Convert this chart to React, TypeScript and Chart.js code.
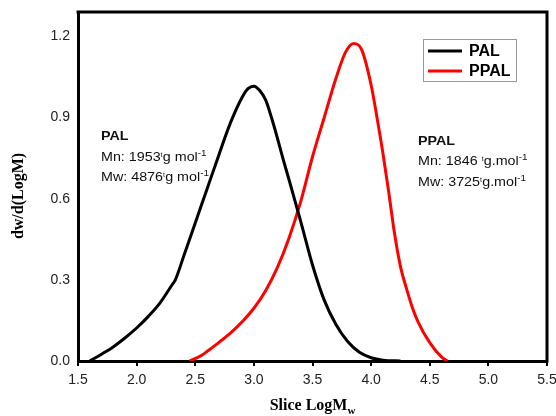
import React, { useEffect, useRef } from 'react';
import { Chart, registerables } from 'chart.js';
Chart.register(...registerables);

const palX = [1.6, 1.7, 1.8, 1.9, 2.0, 2.1, 2.2, 2.3, 2.33, 2.4, 2.5, 2.6, 2.7, 2.8, 2.9, 2.95, 3.0, 3.05, 3.1, 3.15, 3.2, 3.25, 3.3, 3.4, 3.5, 3.6, 3.7, 3.8, 3.9, 4.0, 4.1, 4.25];
const palY = [0, 0.025, 0.052, 0.085, 0.122, 0.165, 0.215, 0.28, 0.3, 0.385, 0.51, 0.635, 0.76, 0.88, 0.975, 1.007, 1.016, 1.0, 0.965, 0.9, 0.825, 0.745, 0.67, 0.515, 0.355, 0.225, 0.135, 0.072, 0.032, 0.012, 0.003, 0];
const ppalX = [2.45, 2.55, 2.6, 2.7, 2.8, 2.9, 3.0, 3.1, 3.2, 3.3, 3.4, 3.5, 3.6, 3.7, 3.78, 3.85, 3.92, 4.0, 4.05, 4.1, 4.15, 4.2, 4.25, 4.3, 4.35, 4.4, 4.5, 4.6, 4.65];
const ppalY = [0, 0.02, 0.035, 0.068, 0.103, 0.145, 0.195, 0.26, 0.345, 0.455, 0.59, 0.755, 0.9, 1.045, 1.14, 1.174, 1.15, 1.02, 0.9, 0.77, 0.625, 0.47, 0.35, 0.27, 0.2, 0.145, 0.068, 0.015, 0];

const seriesNames = ['PAL', 'PPAL'];
const seriesColors = ['#000000', '#ff0000'];
const xMin = 1.5, xMax = 5.5, xStep = 0.5;
const yMin = 0, yMax = 1.29, yStep = 0.3;
const palNotes = ['PAL', 'Mn: 1953', 'Mw: 4876'];
const ppalNotes = ['PPAL', 'Mn: 1846 ', 'Mw: 3725'];
const unitPal = 'g mol';
const unitPpal = 'g.mol';

const SANS = '"Liberation Sans", Arial, sans-serif';
const SERIF = '"Liberation Serif", "Times New Roman", serif';

type Part = { text: string; font: string; dy?: number };
function drawRich(ctx: CanvasRenderingContext2D, x: number, y: number, parts: Part[], sx = 1) {
  ctx.save();
  ctx.translate(x, y);
  ctx.scale(sx, 1);
  let cx = 0;
  for (const p of parts) {
    ctx.font = p.font;
    ctx.fillText(p.text, cx, p.dy || 0);
    cx += ctx.measureText(p.text).width;
  }
  ctx.restore();
}

export default function App() {
  const ref = useRef<HTMLCanvasElement>(null);
  useEffect(() => {
    document.body.style.margin = '0';
    const ctx = ref.current!.getContext('2d')!;
    const overlay = {
      id: 'overlay',
      afterDraw(chart: any) {
        const c: CanvasRenderingContext2D = chart.ctx;
        const a = chart.chartArea;
        c.save();
        c.strokeStyle = '#000';
        c.lineWidth = 3;
        c.beginPath();
        c.moveTo(a.left - 1.5, a.top);
        c.lineTo(a.right, a.top);
        c.lineTo(a.right, a.bottom + 1.5);
        c.stroke();

        c.lineWidth = 1;
        c.strokeStyle = '#999';
        c.strokeRect(423.5, 39.5, 93, 42);
        const ly = [51, 71];
        c.textBaseline = 'middle';
        c.textAlign = 'left';
        for (let i = 0; i < 2; i++) {
          c.strokeStyle = seriesColors[i];
          c.lineWidth = 3;
          c.beginPath();
          c.moveTo(428, ly[i]);
          c.lineTo(462, ly[i]);
          c.stroke();
          c.fillStyle = '#000';
          c.font = 'bold 16px ' + SANS;
          c.fillText(seriesNames[i], 469, ly[i] + 1);
        }

        c.textBaseline = 'alphabetic';
        c.fillStyle = '#111';
        const f = '13px ' + SANS;
        const fs = '9px ' + SANS;
        const tf = '9px ' + SANS;
        const k = 1.1;
        drawRich(c, 101, 140, [{ text: palNotes[0], font: 'bold 13px ' + SANS }], k);
        drawRich(c, 101, 161, [{ text: palNotes[1], font: f }, { text: 'ᵗ', font: tf, dy: -2 }, { text: unitPal, font: f }, { text: '-1', font: fs, dy: -5 }], k);
        drawRich(c, 101, 181, [{ text: palNotes[2], font: f }, { text: 'ᵗ', font: tf, dy: -2 }, { text: unitPal, font: f }, { text: '-1', font: fs, dy: -5 }], k);
        drawRich(c, 418, 145, [{ text: ppalNotes[0], font: 'bold 13px ' + SANS }], k);
        drawRich(c, 418, 165, [{ text: ppalNotes[1], font: f }, { text: 'ᵗ', font: tf, dy: -2 }, { text: unitPpal, font: f }, { text: '-1', font: fs, dy: -5 }], k);
        drawRich(c, 418, 186, [{ text: ppalNotes[2], font: f }, { text: 'ᵗ', font: tf, dy: -2 }, { text: unitPpal, font: f }, { text: '-1', font: fs, dy: -5 }], k);

        c.fillStyle = '#000';
        c.save();
        c.translate(19, 196);
        c.rotate(-Math.PI / 2);
        c.textAlign = 'center';
        c.textBaseline = 'middle';
        c.font = 'bold 16px ' + SERIF;
        c.fillText('dw/d(LogM)', 0, 0);
        c.restore();

        c.font = 'bold 16px ' + SERIF;
        const w1 = c.measureText('Slice LogM').width;
        c.font = 'bold 11px ' + SERIF;
        const w2 = c.measureText('w').width;
        const sx = (a.left + a.right) / 2 - (w1 + w2) / 2;
        drawRich(c, sx, 410, [{ text: 'Slice LogM', font: 'bold 16px ' + SERIF }, { text: 'w', font: 'bold 11px ' + SERIF, dy: 4 }]);
        c.restore();
      },
    };
    const chart = new Chart(ctx, {
      type: 'line',
      data: {
        datasets: [
          {
            label: seriesNames[0],
            data: palX.map((x, i) => ({ x, y: palY[i] })),
            borderColor: seriesColors[0],
            borderWidth: 3,
            pointRadius: 0,
            cubicInterpolationMode: 'monotone',
            fill: false,
          },
          {
            label: seriesNames[1],
            data: ppalX.map((x, i) => ({ x, y: ppalY[i] })),
            borderColor: seriesColors[1],
            borderWidth: 3,
            pointRadius: 0,
            cubicInterpolationMode: 'monotone',
            fill: false,
          },
        ],
      },
      options: {
        animation: false,
        responsive: false,
        layout: { padding: { top: 12, right: 9, left: 0, bottom: 0 } },
        plugins: { legend: { display: false }, tooltip: { enabled: false } },
        scales: {
          x: {
            type: 'linear',
            min: xMin,
            max: xMax,
            ticks: {
              stepSize: xStep,
              callback: (v: any) => Number(v).toFixed(1),
              font: { family: SANS, size: 14 },
              color: '#222',
              padding: 6,
              maxRotation: 0,
            },
            grid: { drawOnChartArea: false, drawTicks: true, tickLength: 5, color: '#000', lineWidth: 2 },
            border: { display: true, color: '#000', width: 3 },
            afterFit: (s: any) => { s.height = 55; s.paddingLeft = 0; s.paddingRight = 0; },
          },
          y: {
            type: 'linear',
            min: yMin,
            max: yMax,
            ticks: {
              stepSize: yStep,
              callback: (v: any) => Number(v).toFixed(1),
              font: { family: SANS, size: 14 },
              color: '#222',
              padding: 8,
            },
            afterBuildTicks: (s: any) => {
              s.ticks = s.ticks.filter((t: any) => Math.abs(t.value / yStep - Math.round(t.value / yStep)) < 1e-6);
            },
            grid: { display: false, drawTicks: false },
            border: { display: true, color: '#000', width: 3 },
            afterFit: (s: any) => { s.width = 78; s.paddingTop = 0; s.paddingBottom = 0; },
          },
        },
      } as any,
      plugins: [overlay],
    });
    return () => chart.destroy();
  }, []);
  return (
    <div style={{ width: 556, height: 416 }}>
      <canvas ref={ref} width={556} height={416} style={{ display: 'block', width: 556, height: 416 }} />
    </div>
  );
}
